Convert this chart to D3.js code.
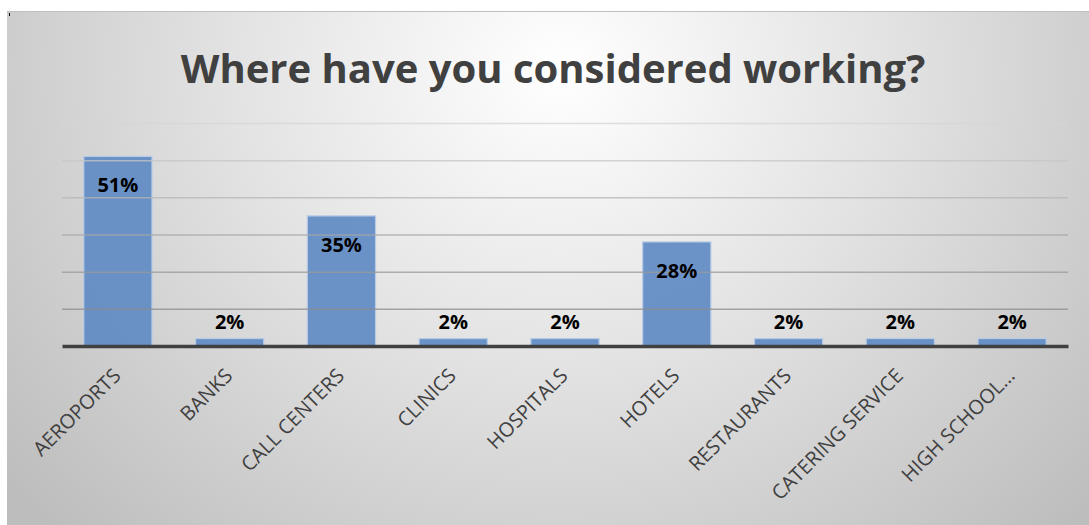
<!DOCTYPE html>
<html>
<head>
<meta charset="utf-8">
<script src="https://cdn.jsdelivr.net/npm/d3@7"></script>
<style>
  html, body { margin: 0; padding: 0; background: #ffffff; }
  svg { display: block; }
</style>
</head>
<body>
<svg id="chart" width="1089" height="525"></svg>
<script>
// Survey answers: share of respondents per workplace
const categories = ["AEROPORTS", "BANKS", "CALL CENTERS", "CLINICS", "HOSPITALS",
                    "HOTELS", "RESTAURANTS", "CATERING SERVICE", "HIGH SCHOOL\u2026"];
const values = [51, 2, 35, 2, 2, 28, 2, 2, 2];
const yTicks = [0, 10, 20, 30, 40, 50, 60];
const title = "Where have you considered working?";

const svg = d3.select("#chart");
const frame = { x: 7, y: 11, w: 1082, h: 514 };
const plot = { left: 62, right: 1068, top: 123, bottom: 346 };
const font = "'Open Sans', 'Liberation Sans', sans-serif";

// Background gradient
const defs = svg.append("defs");
const rg = defs.append("radialGradient")
  .attr("id", "bg")
  .attr("gradientUnits", "userSpaceOnUse")
  .attr("cx", 560).attr("cy", 70).attr("r", 720)
  .attr("gradientTransform", "translate(560,70) scale(1,0.9) translate(-560,-70)");
rg.append("stop").attr("offset", "0%").attr("stop-color", "#ffffff");
rg.append("stop").attr("offset", "45%").attr("stop-color", "#e3e3e3");
rg.append("stop").attr("offset", "100%").attr("stop-color", "#bdbdbd");

svg.append("rect")
  .attr("x", frame.x).attr("y", frame.y)
  .attr("width", frame.w).attr("height", frame.h)
  .attr("fill", "url(#bg)");
svg.append("line")
  .attr("x1", frame.x).attr("x2", frame.x + frame.w)
  .attr("y1", frame.y + 0.5).attr("y2", frame.y + 0.5)
  .attr("stroke", "#bfbfbf").attr("stroke-width", 1);
svg.append("rect")
  .attr("x", 9).attr("y", 13).attr("width", 1).attr("height", 3)
  .attr("fill", "#000");

// Scales
const x = d3.scaleBand()
  .domain(categories)
  .range([plot.left, plot.right])
  .paddingInner(0.39)
  .paddingOuter(0.195);
const y = d3.scaleLinear()
  .domain([0, 60])
  .range([plot.bottom, plot.top]);

// Gridlines shade from light at top to darker near the axis
const gridColor = d3.scaleLinear()
  .domain([60, 30, 10])
  .range(["#d6d6d6", "#a6a6a6", "#8c8c8c"]);

// Bars
svg.append("g")
  .selectAll("rect")
  .data(values)
  .join("rect")
  .attr("x", (d, i) => x(categories[i]))
  .attr("y", d => y(d))
  .attr("width", x.bandwidth())
  .attr("height", d => y(0) - y(d))
  .attr("fill", "#5f8bc4")
  .attr("fill-opacity", 0.92)
  .attr("stroke", "#b7cbe6")
  .attr("stroke-width", 1.2);

// Gridlines (drawn over the bars, showing through faintly)
const yAxis = d3.axisLeft(y)
  .tickValues(yTicks.filter(t => t > 0))
  .tickSize(-(plot.right - plot.left))
  .tickFormat("");
const grid = svg.append("g")
  .attr("transform", `translate(${plot.left},0)`)
  .call(yAxis);
grid.select(".domain").remove();
grid.selectAll(".tick line")
  .attr("stroke", d => gridColor(d))
  .attr("stroke-opacity", 0.75)
  .attr("stroke-width", 1.5);

// Category axis
const xAxis = d3.axisBottom(x).tickSize(0).tickFormat("");
const xg = svg.append("g")
  .attr("transform", `translate(0,${plot.bottom})`)
  .call(xAxis);
xg.select(".domain")
  .attr("stroke", "#404040")
  .attr("stroke-width", 3.5);

// Rotated category labels
svg.append("g")
  .selectAll("text")
  .data(categories)
  .join("text")
  .attr("transform", d => `translate(${x(d) + x.bandwidth() / 2 + 4},${plot.bottom + 31}) rotate(-45)`)
  .attr("text-anchor", "end")
  .attr("font-family", font)
  .attr("font-size", 20)
  .attr("fill", "#404040")
  .text(d => d);

// Value labels
svg.append("g")
  .selectAll("text")
  .data(values)
  .join("text")
  .attr("x", (d, i) => x(categories[i]) + x.bandwidth() / 2)
  .attr("y", d => d > 10 ? y(d) + 36 : y(d) - 10)
  .attr("text-anchor", "middle")
  .attr("font-family", font)
  .attr("font-weight", "bold")
  .attr("font-size", 20)
  .attr("fill", "#000")
  .text(d => d + "%");

// Title
svg.append("text")
  .attr("x", 553)
  .attr("y", 83)
  .attr("text-anchor", "middle")
  .attr("font-family", font)
  .attr("font-weight", "bold")
  .attr("font-size", 40)
  .attr("fill", "#404040")
  .text(title);
</script>
</body>
</html>
